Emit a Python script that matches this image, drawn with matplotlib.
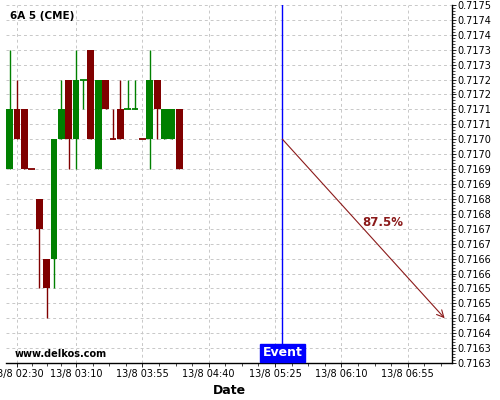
import matplotlib
matplotlib.use("Agg")
import matplotlib.pyplot as plt
from matplotlib.ticker import FixedLocator, AutoMinorLocator

# 5-minute candles, 13/8
times = ["02:25", "02:30", "02:35", "02:40", "02:45", "02:50", "02:55", "03:00",
         "03:05", "03:10", "03:15", "03:20", "03:25", "03:30", "03:35", "03:40",
         "03:45", "03:50", "03:55", "04:00", "04:05", "04:10", "04:15", "04:20"]
opens = [0.71695, 0.71715, 0.71715, 0.71695, 0.71685, 0.71665, 0.71665, 0.71705,
         0.71725, 0.71705, 0.71725, 0.71735, 0.71695, 0.71725, 0.71705, 0.71715,
         0.71715, 0.71715, 0.71705, 0.71705, 0.71725, 0.71705, 0.71705, 0.71715]
highs = [0.71735, 0.71725, 0.71715, 0.71695, 0.71685, 0.71665, 0.71705, 0.71725,
         0.71725, 0.71735, 0.71725, 0.71735, 0.71725, 0.71725, 0.71715, 0.71725,
         0.71725, 0.71725, 0.71705, 0.71735, 0.71725, 0.71715, 0.71715, 0.71715]
lows = [0.71695, 0.71705, 0.71695, 0.71695, 0.71655, 0.71645, 0.71655, 0.71705,
        0.71695, 0.71695, 0.71715, 0.71705, 0.71695, 0.71715, 0.71705, 0.71705,
        0.71715, 0.71715, 0.71705, 0.71695, 0.71705, 0.71705, 0.71705, 0.71695]
closes = [0.71715, 0.71705, 0.71695, 0.71695, 0.71675, 0.71655, 0.71705, 0.71715,
          0.71705, 0.71725, 0.71725, 0.71705, 0.71725, 0.71715, 0.71705, 0.71705,
          0.71715, 0.71715, 0.71705, 0.71725, 0.71715, 0.71715, 0.71715, 0.71695]
bullish = [True, False, False, False, False, False, True, True,
           False, True, True, False, True, False, False, False,
           True, True, False, True, False, True, True, False]

xtick_times = ["02:30", "03:10", "03:55", "04:40", "05:25", "06:10", "06:55"]
xtick_labels = ["13/8 " + t for t in xtick_times]
ytick_values = [0.71630 + 0.00005 * i for i in range(25)]
ytick_labels = ["0.7163", "0.7163", "0.7164", "0.7164", "0.7165", "0.7165", "0.7166",
                "0.7166", "0.7167", "0.7167", "0.7168", "0.7168", "0.7169", "0.7169",
                "0.7170", "0.7170", "0.7171", "0.7171", "0.7172", "0.7172", "0.7173",
                "0.7173", "0.7174", "0.7174", "0.7175"]

event_time = "05:30"
arrow_start = ("05:30", 0.71705)
arrow_end = ("07:20", 0.71645)
prob_label = "87.5%"
prob_pos = ("06:38", 0.71677)


def mins(t):
    h, m = t.split(":")
    return int(h) * 60 + int(m)


GREEN = "#008000"
RED = "#800000"

fig = plt.figure(figsize=(5, 4), dpi=100)
ax = fig.add_axes([0.012, 0.0925, 0.892, 0.895])

width = 4.6
for t, o, h, l, c, up in zip(times, opens, highs, lows, closes, bullish):
    x = mins(t)
    col = GREEN if up else RED
    ax.vlines(x, l, h, color=col, lw=1.0, zorder=3)
    if abs(c - o) < 1e-9:
        ax.hlines(o, x - width / 2, x + width / 2, color=col, lw=1.3, zorder=4)
    else:
        ax.bar(x, c - o, bottom=o, width=width, color=col, lw=0, zorder=4)

ev = mins(event_time)
ax.axvline(ev, color="blue", lw=1.0, zorder=5)
ax.text(ev, 0.716312, "Event", color="white", fontsize=9, fontweight="bold",
        ha="center", va="bottom", zorder=6,
        bbox=dict(boxstyle="square,pad=0.22", fc="blue", ec="blue"))

ax.annotate("", xy=(mins(arrow_end[0]), arrow_end[1]),
            xytext=(mins(arrow_start[0]), arrow_start[1]),
            arrowprops=dict(arrowstyle="->,head_length=0.5,head_width=0.25",
                            color="#8b1a1a", lw=0.8,
                            shrinkA=0, shrinkB=0), zorder=5)
ax.text(mins(prob_pos[0]), prob_pos[1], prob_label, color="#8b1a1a",
        fontsize=8.5, fontweight="bold", ha="center", va="center")

ax.text(0.01, 0.97, "6A 5 (CME)", transform=ax.transAxes, fontsize=7.5,
        fontweight="bold", ha="left", va="center")
ax.text(0.02, 0.025, "www.delkos.com", transform=ax.transAxes, fontsize=7,
        fontweight="bold", ha="left", va="center")

ax.set_xlim(mins("02:22") + 0.5, mins("07:25"))
ax.set_ylim(0.71630, 0.71750)

majors = [mins(t) for t in xtick_times]
minors = []
for a, b in zip(majors[:-1], majors[1:]):
    minors += [a + (b - a) * k / 4 for k in range(1, 4)]
minors += [majors[-1] + 11.25, majors[-1] + 22.5]
ax.xaxis.set_major_locator(FixedLocator(majors))
ax.xaxis.set_minor_locator(FixedLocator(minors))
ax.set_xticklabels(xtick_labels, fontsize=7)

ax.yaxis.tick_right()
ax.set_yticks(ytick_values)
ax.set_yticklabels(ytick_labels, fontsize=7)
ax.yaxis.set_minor_locator(AutoMinorLocator(5))

ax.tick_params(axis="both", which="major", length=3, width=0.6, pad=1)
ax.tick_params(axis="both", which="minor", length=1.8, width=0.5)

for s in ["top", "left"]:
    ax.spines[s].set_visible(False)
for s in ["bottom", "right"]:
    ax.spines[s].set_linewidth(1.0)

ax.grid(True, which="major", color="#c8c8c8", linestyle=(0, (3, 3)), lw=0.7)
ax.set_axisbelow(True)

ax.set_xlabel("Date", fontsize=9, fontweight="bold", labelpad=4)

fig.savefig("out.png", dpi=100)
